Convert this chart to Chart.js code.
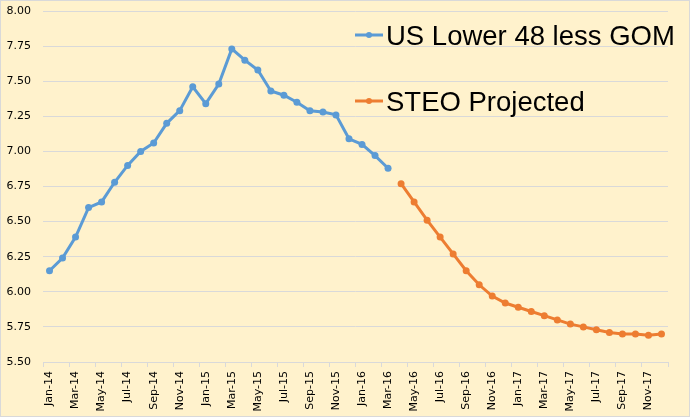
<!DOCTYPE html>
<html>
<head>
<meta charset="utf-8">
<script src="https://cdn.jsdelivr.net/npm/chart.js@4/dist/chart.umd.min.js"></script>
<style>
    html, body { margin: 0; padding: 0; background: #FFF2CC; }
    canvas { display: block; }
</style>
</head>
<body>
<canvas id="chart" width="690" height="417"></canvas>
<script>
// Months, Jan-14 .. Dec-17
let months = [
    'Jan-14','Feb-14','Mar-14','Apr-14','May-14','Jun-14','Jul-14','Aug-14','Sep-14','Oct-14','Nov-14','Dec-14',
    'Jan-15','Feb-15','Mar-15','Apr-15','May-15','Jun-15','Jul-15','Aug-15','Sep-15','Oct-15','Nov-15','Dec-15',
    'Jan-16','Feb-16','Mar-16','Apr-16','May-16','Jun-16','Jul-16','Aug-16','Sep-16','Oct-16','Nov-16','Dec-16',
    'Jan-17','Feb-17','Mar-17','Apr-17','May-17','Jun-17','Jul-17','Aug-17','Sep-17','Oct-17','Nov-17','Dec-17'
];

// US Lower 48 less GOM, Jan-14 .. Mar-16
let actual = [
    6.15, 6.24, 6.39, 6.60, 6.64, 6.78, 6.90, 7.00, 7.06, 7.20, 7.29, 7.46,
    7.34, 7.48, 7.73, 7.65, 7.58, 7.43, 7.40, 7.35, 7.29, 7.28, 7.26, 7.09,
    7.05, 6.97, 6.88
];

// STEO Projected, Apr-16 .. Dec-17
let projected = [
    6.77, 6.64, 6.51, 6.39, 6.27, 6.15, 6.05, 5.97, 5.92,
    5.89, 5.86, 5.83, 5.80, 5.77, 5.75, 5.73, 5.71, 5.70, 5.70, 5.69, 5.70
];

let seriesNames = ['US Lower 48 less GOM', 'STEO Projected'];
let yMin = 5.5, yMax = 8, yStep = 0.25;

// pad the two series out to the full month range
let actualData = months.map((m, i) => i < actual.length ? actual[i] : null);
let projStart = months.length - projected.length;
let projectedData = months.map((m, i) => i >= projStart ? projected[i - projStart] : null);

let axisFont = { family: 'DejaVu Sans', size: 11 };
let gridColor = '#D9D9D9';

// Background + outer border
const backgroundPlugin = {
    id: 'background',
    beforeDraw(chart) {
        let ctx = chart.ctx;
        ctx.save();
        ctx.fillStyle = '#FFF2CC';
        ctx.fillRect(0, 0, chart.width, chart.height);
        ctx.strokeStyle = '#D9D9D9';
        ctx.lineWidth = 1;
        ctx.strokeRect(0.5, 0.5, chart.width - 1, chart.height - 1);
        ctx.restore();
    }
};

// Legend drawn inside the plot, top right
const insideLegend = {
    id: 'insideLegend',
    afterDraw(chart) {
        let ctx = chart.ctx;
        let rows = [45, 111]; // baselines
        ctx.save();
        chart.data.datasets.forEach((ds, i) => {
            let base = rows[i];
            let midY = base - 10;
            ctx.strokeStyle = ds.borderColor;
            ctx.lineWidth = 3;
            ctx.beginPath();
            ctx.moveTo(355, midY);
            ctx.lineTo(383, midY);
            ctx.stroke();
            ctx.fillStyle = ds.borderColor;
            ctx.beginPath();
            ctx.arc(369, midY, 3, 0, Math.PI * 2);
            ctx.fill();
            ctx.fillStyle = '#000000';
            ctx.font = '27.5px "Liberation Sans"';
            ctx.textBaseline = 'alphabetic';
            ctx.textAlign = 'left';
            ctx.fillText(ds.label, 386, base);
        });
        ctx.restore();
    }
};

let chart = new Chart(document.getElementById('chart').getContext('2d'), {
    type: 'line',
    data: {
        labels: months,
        datasets: [
            {
                label: seriesNames[0],
                data: actualData,
                borderColor: '#5B9BD5',
                backgroundColor: '#5B9BD5',
                borderWidth: 3,
                pointRadius: 3.5,
                pointBorderWidth: 0,
                pointBackgroundColor: '#5B9BD5',
                tension: 0,
                spanGaps: false
            },
            {
                label: seriesNames[1],
                data: projectedData,
                borderColor: '#ED7D31',
                backgroundColor: '#ED7D31',
                borderWidth: 3,
                pointRadius: 3.5,
                pointBorderWidth: 0,
                pointBackgroundColor: '#ED7D31',
                tension: 0,
                spanGaps: false
            }
        ]
    },
    options: {
        responsive: false,
        animation: false,
        layout: {
            padding: { top: 11, right: 22, left: 0, bottom: 0 }
        },
        scales: {
            x: {
                offset: true,
                grid: {
                    offset: true,
                    drawOnChartArea: false,
                    tickLength: 5,
                    color: function (ctx) {
                        // tick marks every second month
                        return (ctx.index === undefined || ctx.index % 2 === 0) ? gridColor : 'rgba(0,0,0,0)';
                    }
                },
                border: { color: gridColor, width: 1 },
                ticks: {
                    autoSkip: false,
                    minRotation: 90,
                    maxRotation: 90,
                    padding: 4,
                    color: '#000000',
                    font: axisFont,
                    callback: function (value, index) {
                        return index % 2 === 0 ? this.getLabelForValue(value) : '';
                    }
                },
                afterFit: function (scale) {
                    scale.height = 55;
                    scale.paddingLeft = 0;
                    scale.paddingRight = 0;
                }
            },
            y: {
                min: yMin,
                max: yMax,
                grid: { color: gridColor, drawTicks: false },
                border: { display: false },
                ticks: {
                    stepSize: yStep,
                    padding: 12,
                    color: '#000000',
                    font: axisFont,
                    callback: function (value) { return value.toFixed(2); }
                },
                afterFit: function (scale) {
                    scale.width = 43;
                    scale.paddingTop = 0;
                    scale.paddingBottom = 0;
                }
            }
        },
        plugins: {
            legend: { display: false },
            tooltip: { enabled: false }
        }
    },
    plugins: [backgroundPlugin, insideLegend]
});
</script>
</body>
</html>
